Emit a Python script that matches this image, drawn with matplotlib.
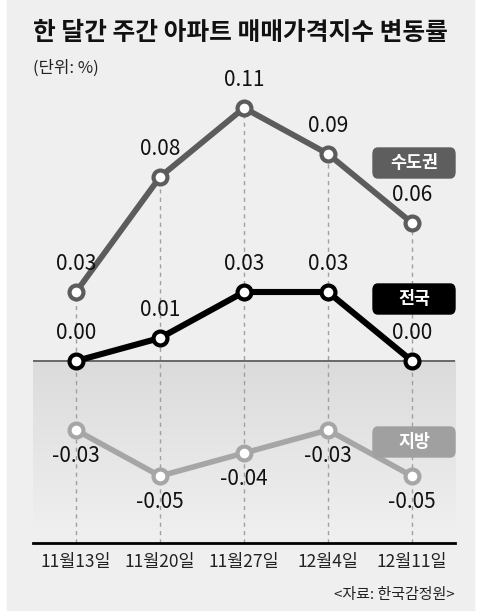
import numpy as np
import matplotlib
matplotlib.use("Agg")
import matplotlib.pyplot as plt
from matplotlib.patches import Rectangle, FancyBboxPatch

plt.rcParams['font.family'] = ['Noto Sans CJK KR', 'DejaVu Sans']

# data
weeks = ['11월13일', '11월20일', '11월27일', '12월4일', '12월11일']
sudogwon = [0.03, 0.08, 0.11, 0.09, 0.06]
jeonguk = [0.00, 0.01, 0.03, 0.03, 0.00]
jibang = [-0.03, -0.05, -0.04, -0.03, -0.05]
series_names = ['수도권', '전국', '지방']

W, H = 478, 616
fig = plt.figure(figsize=(W / 100, H / 100), dpi=100, facecolor='white')

def fx(px):
    return px / W

def fy(py):
    return 1 - py / H

# grey panel
fig.patches.append(Rectangle((fx(7), fy(610)), fx(467), 610 / H,
                             transform=fig.transFigure, color='#efefef', zorder=-10))

ax = fig.add_axes([fx(33), fy(543), fx(455 - 33), (543 - 90) / H])
ax.set_facecolor('none')
x = np.arange(len(weeks))
ymin, ymax = -0.0791, 0.1178

# gradient below zero
grad = np.linspace(0, 1, 100).reshape(-1, 1)
top_c = np.array([0.86, 0.86, 0.86])
bot_c = np.array([0.937, 0.937, 0.937])
img = top_c + (bot_c - top_c) * grad
ax.imshow(img[:, None, :].repeat(2, axis=1), extent=(-0.512, 4.512, -0.0735, 0),
          aspect='auto', zorder=0.5, origin='upper')
ax.set_xlim(-0.512, 4.512)
ax.set_ylim(ymin, ymax)

# dashed guides
tops = np.max([sudogwon, jeonguk, jibang], axis=0)
for xi, t in zip(x, tops):
    ax.plot([xi, xi], [ymin, t], color='#a0a0a0', lw=1, ls=(0, (3, 3)), zorder=1)

ax.axhline(0, color='#555555', lw=1.2, zorder=1.5)

colors = ['#5c5c5c', '#000000', '#a6a6a6']
lws = [4.2, 4.4, 4.0]
for vals, c, lw in zip([sudogwon, jeonguk, jibang], colors, lws):
    ax.plot(x, vals, color=c, lw=lw, marker='o', ms=10, mfc='white', mec=c, mew=3, zorder=3)

for vals, off in [(sudogwon, 20), (jeonguk, 20), (jibang, -19)]:
    for xi, v in zip(x, vals):
        ax.annotate(f'{v:.2f}', (xi, v), xytext=(0, off), textcoords='offset points',
                    ha='center', va='center', fontsize=15, fontweight='medium',
                    color='#111111', zorder=4)

for s in ['top', 'right', 'left']:
    ax.spines[s].set_visible(False)
ax.spines['bottom'].set_color('black')
ax.spines['bottom'].set_linewidth(2)
ax.set_yticks([])
ax.set_xticks(x)
ax.set_xticklabels(weeks, fontsize=12.5, fontweight='medium', color='#222222')
ax.tick_params(axis='x', length=0, pad=7)

# legend boxes
box_cols = ['#5e5e5e', '#000000', '#a0a0a0']
box_tops = [148, 284, 427]
for name, bc, bt in zip(series_names, box_cols, box_tops):
    fig.patches.append(FancyBboxPatch((fx(373), fy(bt + 30)), fx(82), 30 / H,
                                      boxstyle='round,pad=0,rounding_size=0.01',
                                      transform=fig.transFigure, color=bc, zorder=5))
    fig.text(fx(414), fy(bt + 15), name, color='white', fontsize=12.5, fontweight='bold',
             ha='center', va='center', zorder=6)

fig.text(fx(33), fy(33), '한 달간 주간 아파트 매매가격지수 변동률', fontsize=17.8,
         fontweight='heavy', ha='left', va='center', color='#111111')
fig.text(fx(33), fy(68), '(단위: %)', fontsize=12, fontweight='medium', ha='left', va='center', color='#222222')
fig.text(fx(455), fy(595), '<자료: 한국감정원>', fontsize=10.8, ha='right', va='center', color='#222222')

fig.savefig('out.png', dpi=100, facecolor='white')
